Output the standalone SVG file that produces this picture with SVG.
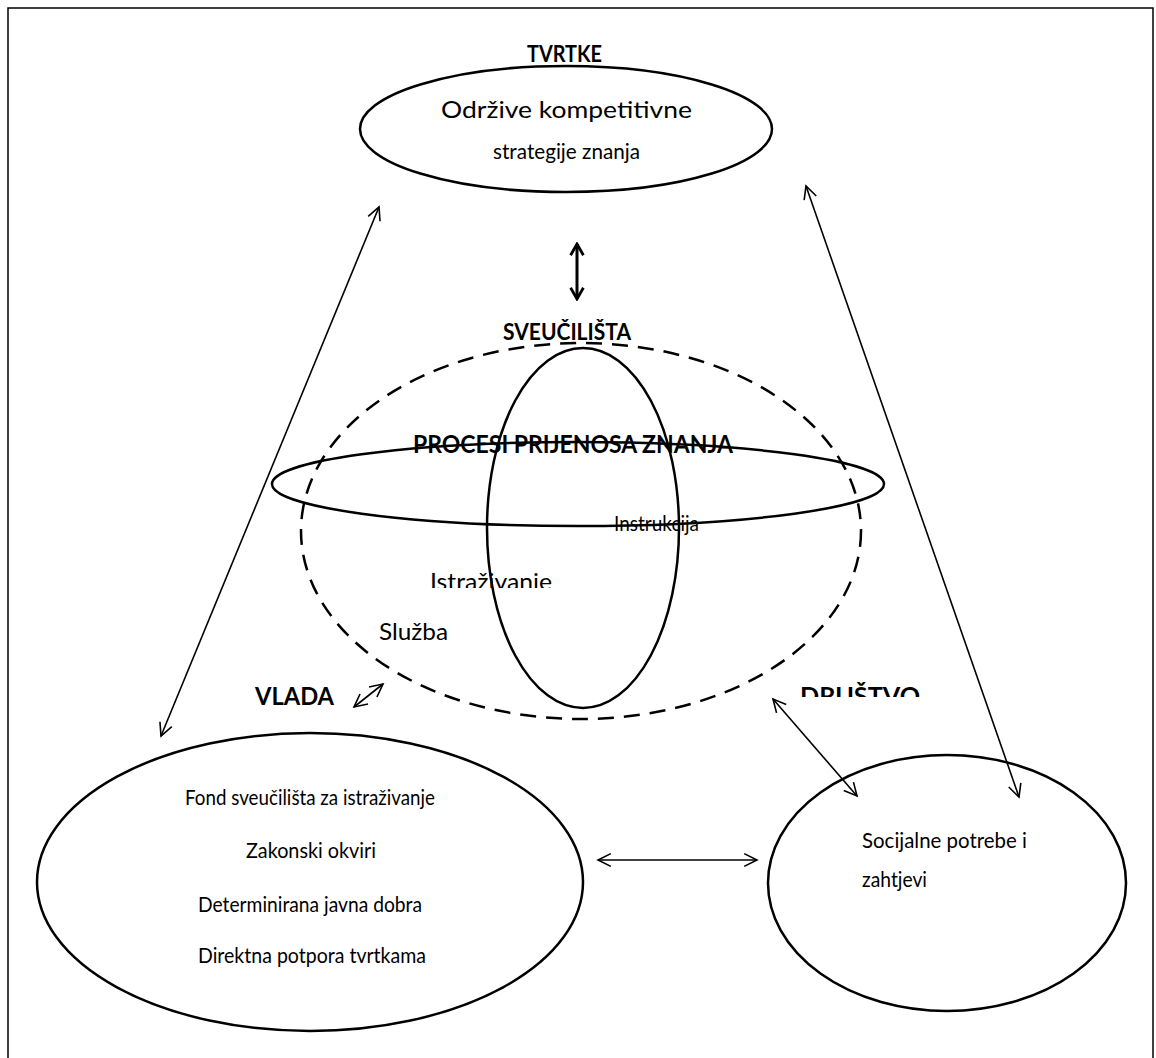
<svg xmlns="http://www.w3.org/2000/svg" width="1156" height="1058" viewBox="0 0 1156 1058">
  <defs>
    <marker id="arr" viewBox="0 0 20 20" refX="18" refY="10" markerWidth="16" markerHeight="16" markerUnits="userSpaceOnUse" orient="auto-start-reverse">
      <path d="M2,2 L18,10 L2,18" fill="none" stroke="#000" stroke-width="2"/>
    </marker>
    <marker id="arrB" viewBox="0 0 20 20" refX="17" refY="10" markerWidth="16" markerHeight="16" markerUnits="userSpaceOnUse" orient="auto-start-reverse">
      <path d="M3,2 L17,10 L3,18" fill="none" stroke="#000" stroke-width="3.5"/>
    </marker>
    <clipPath id="clipDr"><rect x="790" y="670" width="160" height="27"/></clipPath>
    <clipPath id="clipIs"><rect x="420" y="560" width="150" height="28"/></clipPath>
  </defs>
  <style>
    .sh { fill: none; stroke: #000; stroke-width: 2.5; }
    .ln { fill: none; stroke: #000; stroke-width: 1.6; }
    .t { font-family: Lato, "Open Sans", sans-serif; font-size: 22px; fill: #000; }
    .b { font-family: Lato, "Open Sans", sans-serif; font-size: 22px; font-weight: bold; fill: #000; }
    .lg { font-size: 24px; }
    .bl { font-size: 24px; }
  </style>
  <rect x="0" y="0" width="1156" height="1058" fill="#fff"/>
  <rect x="8" y="8" width="1145" height="1070" fill="none" stroke="#000" stroke-width="1.5"/>

  <g id="connectors">
    <line class="ln" x1="379" y1="207" x2="161" y2="736" marker-start="url(#arr)" marker-end="url(#arr)"/>
    <line class="ln" x1="806" y1="186" x2="1019" y2="797" marker-start="url(#arr)" marker-end="url(#arr)"/>
    <line class="ln" x1="773" y1="699" x2="857" y2="796" marker-start="url(#arr)" marker-end="url(#arr)"/>
    <line class="ln" x1="598" y1="860" x2="757" y2="860" marker-start="url(#arr)" marker-end="url(#arr)"/>
    <line class="ln" x1="354" y1="707" x2="383" y2="684" marker-start="url(#arr)" marker-end="url(#arr)"/>
    <line x1="577" y1="244" x2="577" y2="299" stroke="#000" stroke-width="3" marker-start="url(#arrB)" marker-end="url(#arrB)"/>
  </g>

  <g id="tvrtke">
    <text class="b" x="527" y="62" textLength="75" lengthAdjust="spacingAndGlyphs">TVRTKE</text>
    <ellipse class="sh" cx="566" cy="129" rx="206" ry="63"/>
    <text class="t lg" x="441" y="118" textLength="251" lengthAdjust="spacingAndGlyphs">Održive kompetitivne</text>
    <text class="t" x="493" y="159" textLength="147" lengthAdjust="spacingAndGlyphs">strategije znanja</text>
  </g>

  <g id="sveucilista">
    <text class="b" x="503" y="340" textLength="128" lengthAdjust="spacingAndGlyphs">SVEUČILIŠTA</text>
    <ellipse class="sh" cx="581" cy="531" rx="280" ry="188" stroke-dasharray="16,10"/>
  </g>

  <g id="procesi">
    <ellipse class="sh" cx="578" cy="484" rx="306" ry="42"/>
    <ellipse class="sh" cx="583" cy="528" rx="96" ry="180"/>
    <text class="b bl" x="413" y="453" textLength="320" lengthAdjust="spacingAndGlyphs">PROCESI PRIJENOSA ZNANJA</text>
    <text class="t" x="614" y="531" textLength="85" lengthAdjust="spacingAndGlyphs">Instrukcija</text>
    <text class="t lg" x="430" y="590" textLength="122" lengthAdjust="spacingAndGlyphs" clip-path="url(#clipIs)">Istraživanje</text>
    <text class="t lg" x="379" y="640" textLength="69" lengthAdjust="spacingAndGlyphs">Služba</text>
  </g>

  <g id="vlada">
    <text class="b bl" x="255" y="705" textLength="79" lengthAdjust="spacingAndGlyphs">VLADA</text>
    <ellipse class="sh" cx="310" cy="882" rx="273" ry="149"/>
    <text class="t" x="185" y="805" textLength="250" lengthAdjust="spacingAndGlyphs">Fond sveučilišta za istraživanje</text>
    <text class="t" x="246" y="858" textLength="130" lengthAdjust="spacingAndGlyphs">Zakonski okviri</text>
    <text class="t" x="198" y="912" textLength="224" lengthAdjust="spacingAndGlyphs">Determinirana javna dobra</text>
    <text class="t" x="198" y="963" textLength="228" lengthAdjust="spacingAndGlyphs">Direktna potpora tvrtkama</text>
  </g>

  <g id="drustvo">
    <text class="b bl" x="800" y="705" textLength="120" lengthAdjust="spacingAndGlyphs" clip-path="url(#clipDr)">DRUŠTVO</text>
    <ellipse class="sh" cx="947" cy="883" rx="179" ry="128"/>
    <text class="t" x="862" y="848" textLength="165" lengthAdjust="spacingAndGlyphs">Socijalne potrebe i</text>
    <text class="t" x="862" y="887" textLength="65" lengthAdjust="spacingAndGlyphs">zahtjevi</text>
  </g>
</svg>
